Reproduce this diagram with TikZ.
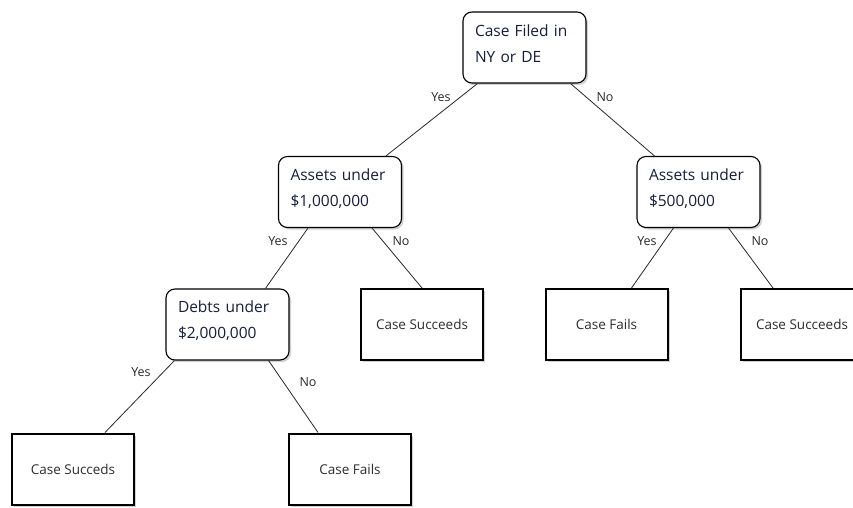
\documentclass[tikz,border=0pt]{standalone}
\usepackage{fontspec}
\setmainfont{Open Sans}
\usetikzlibrary{calc,shadows}
\definecolor{navy}{RGB}{22,30,62}
\definecolor{leaftext}{RGB}{45,45,45}
\definecolor{linegray}{RGB}{40,40,40}
\tikzset{
  decision/.style={draw=black, line width=1.1pt, rounded corners=9pt, fill=white,
    minimum width=123pt, minimum height=71pt, text width=99pt, align=left,
    inner sep=0pt, text=navy, font=\fontsize{15.5}{26}\selectfont,
    execute at end node={\par\vspace{7pt}},
    drop shadow={shadow xshift=2pt, shadow yshift=-2pt, fill=gray!60, opacity=0.6}},
  leaf/.style={draw=black, line width=2pt, fill=white,
    minimum width=122pt, minimum height=71pt, inner sep=0pt,
    text=leaftext, font=\fontsize{13.5}{16}\selectfont,
    drop shadow={shadow xshift=2pt, shadow yshift=-2pt, fill=gray!60, opacity=0.6}},
  edge/.style={draw=linegray, line width=0.8pt},
  lbl/.style={text=linegray, font=\fontsize{12.5}{15}\selectfont, inner sep=0pt}
}
\begin{document}
\begin{tikzpicture}[x=1pt,y=-1pt]
\useasboundingbox (0,0) rectangle (853,508);
\node[decision] (top) at (524.5,47.5) {Case Filed in\\NY or DE};
\node[decision] (a1) at (340,192) {Assets under\\\$1,000,000};
\node[decision] (a5) at (698.5,192) {Assets under\\\$500,000};
\node[decision] (d) at (227.5,324.5) {Debts under\\\$2,000,000};
\node[leaf] (l1) at (422,324.5) {Case Succeeds};
\node[leaf] (l2) at (606.5,324.5) {Case Fails};
\node[leaf] (l3) at (802,324.5) {Case Succeeds};
\node[leaf] (l4) at (73,469) {Case Succeds};
\node[leaf] (l5) at (350,469) {Case Fails};

\draw[edge] ($(top.south west)+(15,0)$) -- ($(a1.north west)+(108,0)$);
\draw[edge] ($(top.south east)+(-16,0)$) -- ($(a5.north west)+(18,0)$);
\draw[edge] ($(a1.south west)+(30,0)$) -- ($(d.north west)+(100,0)$);
\draw[edge] ($(a1.south east)+(-30,0)$) -- (l1.north);
\draw[edge] ($(d.south west)+(9,0)$) -- ($(l4.north west)+(94,0)$);
\draw[edge] ($(d.south east)+(-21,0)$) -- ($(l5.north west)+(30,0)$);
\draw[edge] ($(a5.south west)+(37,0)$) -- ($(l2.north west)+(87,0)$);
\draw[edge] ($(a5.south east)+(-32,0)$) -- ($(l3.north west)+(33,0)$);

\node[lbl] (y1) at (441,97) {Yes};
\node[lbl] (n1) at (605,97) {No};
\node[lbl] (y2) at (278,241) {Yes};
\node[lbl] (n2) at (401,241) {No};
\node[lbl] (y3) at (647,241) {Yes};
\node[lbl] (n3) at (760,241) {No};
\node[lbl] (y4) at (141,372) {Yes};
\node[lbl] (n4) at (308,382) {No};
\end{tikzpicture}
\end{document}
